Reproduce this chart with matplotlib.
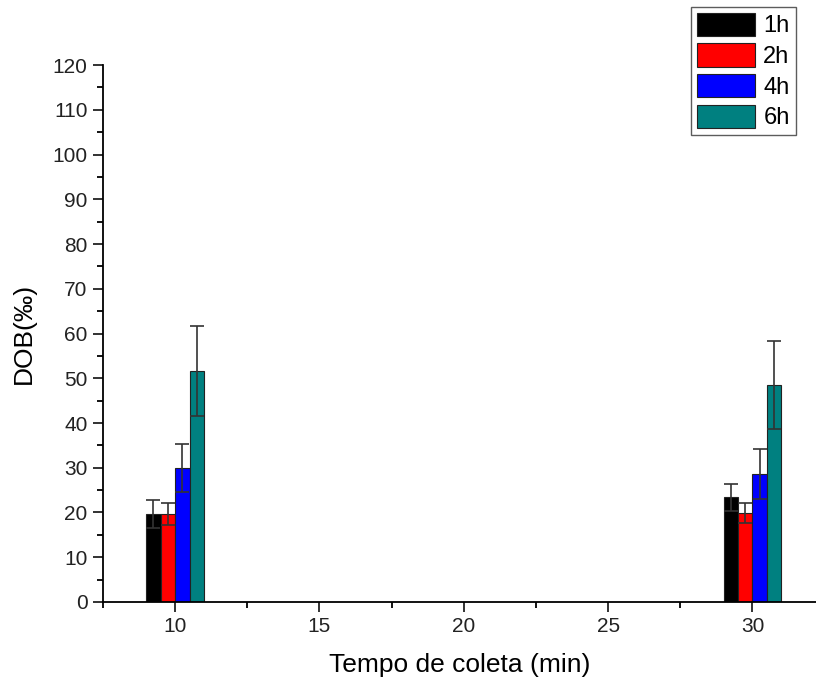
import matplotlib
matplotlib.use("Agg")
import matplotlib.pyplot as plt
import numpy as np
from matplotlib.ticker import MultipleLocator

plt.rcParams['font.family'] = ['Liberation Sans', 'DejaVu Sans']

times = [10, 30]
series = ['1h', '2h', '4h', '6h']
colors = ['#000000', '#ff0000', '#0000ff', '#008080']
values = {
    '1h': [19.7, 23.4],
    '2h': [19.7, 19.9],
    '4h': [29.9, 28.6],
    '6h': [51.6, 48.5],
}
errors = {
    '1h': [3.1, 3.0],
    '2h': [2.4, 2.3],
    '4h': [5.4, 5.6],
    '6h': [10.0, 9.8],
}

fig = plt.figure(figsize=(8.16, 6.84), dpi=100)
ax = fig.add_axes([0.1262, 0.1199, 0.8738, 0.785])

width = 0.5
offsets = [-0.75, -0.25, 0.25, 0.75]
x = np.array(times, dtype=float)
for s, c, off in zip(series, colors, offsets):
    ax.bar(x + off, values[s], width=width, color=c, edgecolor='#222222',
           linewidth=0.8, label=s,
           yerr=errors[s], error_kw=dict(ecolor='#333333', elinewidth=1.2,
                                         capsize=5, capthick=1.2))

ax.set_xlim(7.5, 32.2)
ax.set_ylim(0, 120)
ax.xaxis.set_major_locator(MultipleLocator(5))
ax.xaxis.set_minor_locator(MultipleLocator(2.5))
ax.yaxis.set_major_locator(MultipleLocator(10))
ax.yaxis.set_minor_locator(MultipleLocator(5))
ax.set_xticks([10, 15, 20, 25, 30])

for sp in ['top', 'right']:
    ax.spines[sp].set_visible(False)
for sp in ['left', 'bottom']:
    ax.spines[sp].set_linewidth(1.3)

ax.tick_params(axis='both', which='major', direction='out', length=7, width=1.3,
               labelsize=15, colors='#222222', pad=4)
ax.tick_params(axis='both', which='minor', direction='out', length=4, width=1.3)

ax.set_xlabel('Tempo de coleta (min)', fontsize=19, labelpad=12)
ax.set_ylabel('DOB(‰)', fontsize=19, labelpad=12)

leg = fig.legend(loc='upper right', bbox_to_anchor=(0.975, 0.99), fontsize=17,
                 frameon=True, fancybox=False, edgecolor='#333333',
                 handlelength=2.45, handleheight=1.15, handletextpad=0.35,
                 labelspacing=0.25, borderpad=0.25, borderaxespad=0)
leg.get_frame().set_linewidth(1.0)

fig.savefig('out.png', dpi=100)
